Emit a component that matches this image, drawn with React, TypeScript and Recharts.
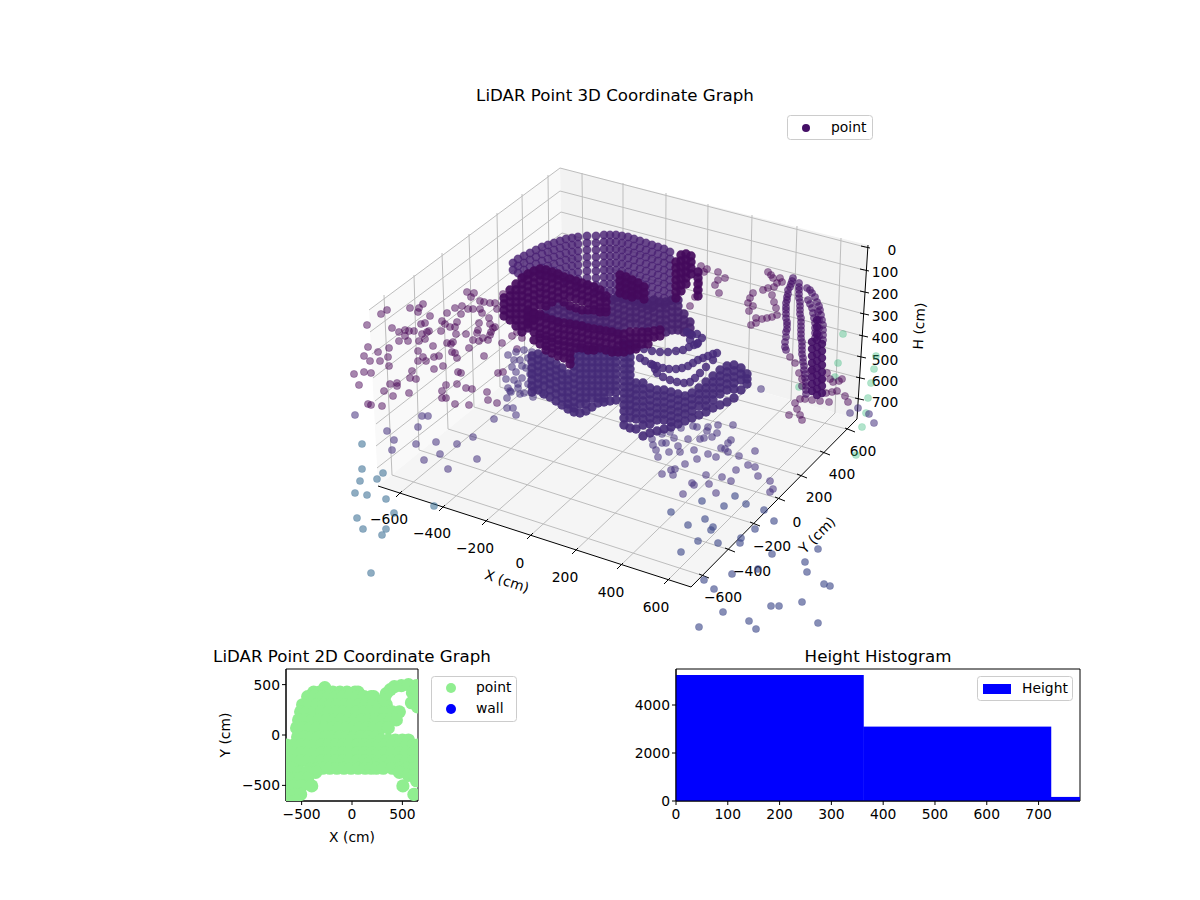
import { Bar, BarChart, ReferenceArea, ReferenceLine, Scatter, ScatterChart, XAxis, YAxis } from 'recharts';

type Pair = [number, number];
type Column = [number, number[]];

const paneLeft = '369,310 560,168 564,335 378,486';
const paneBack = '560,168 868,245 857,419 564,335';
const paneFloor = '378,486 691,587 857,419 564,335';

const xTicks3d: Pair[] = [[399, 494], [442, 508], [485, 522], [530, 536], [575, 551], [620, 566], [667, 581]];
const xBackTop: Pair[] = [[582, 173], [623, 183], [666, 193], [708, 204], [752, 215], [797, 226], [841, 238]];
const xBackBottom: Pair[] = [[584, 341], [623, 352], [665, 364], [706, 376], [748, 388], [791, 400], [835, 413]];
const yTicks3d: Pair[] = [[704, 576], [730, 550], [755, 524], [780, 499], [802, 476], [825, 453], [850, 430]];
const yLeftTop: Pair[] = [[384, 295], [414, 275], [442, 253], [469, 234], [497, 213], [522, 194], [548, 175]];
const yLeftBottom: Pair[] = [[392, 475], [419, 450], [448, 429], [474, 407], [500, 387], [525, 368], [550, 349]];
const zRight: Pair[] = [[865, 247], [864, 270], [864, 292], [864, 314], [863, 336], [861, 357], [860, 378], [859, 399]];
const zCorner: Pair[] = [[560, 168], [560, 191], [561, 212], [562, 233], [562, 256], [563, 278], [563, 300], [564, 322]];
const zLeft: Pair[] = [[369, 310], [370, 332], [372, 354], [373, 378], [375, 401], [376, 424], [376, 446], [377, 468]];

const xTickLabels = ['−600', '−400', '−200', '0', '200', '400', '600'];
const xTickLabelSpots: Pair[] = [[389, 519], [432, 533], [475, 548], [520, 563], [565, 577], [611, 592], [656, 607]];
const yTickLabels = ['−600', '−400', '−200', '0', '200', '400', '600'];
const yTickLabelSpots: Pair[] = [[723, 597], [752, 571], [772, 546], [797, 522], [819, 497], [842, 474], [863, 451]];
const zTickLabels = ['0', '100', '200', '300', '400', '500', '600', '700'];
const zTickLabelSpots: Pair[] = [[892, 250], [885, 272], [885, 294], [885, 316], [885, 338], [885, 360], [885, 381], [885, 402]];

const upperPoints: Pair[] = [
  [367, 325], [381, 314], [387, 310], [392, 328], [410, 308], [418, 312], [419, 308], [423, 304], [430, 316], [447, 313], [455, 308], [462, 306], [461, 314], [468, 309], [473, 309], [467, 292], [471, 297], [474, 293], [480, 301], [484, 302], [490, 303], [495, 303], [480, 309], [482, 313], [497, 309], [503, 294], [489, 318], [479, 323], [490, 324], [495, 327], [421, 324], [425, 323], [442, 321], [445, 324], [457, 322], [450, 327], [455, 327], [441, 331], [429, 331], [427, 332], [422, 334], [414, 331], [409, 331], [405, 330], [399, 332], [405, 336], [399, 341], [408, 341], [419, 341], [425, 339], [433, 346], [447, 343], [453, 342], [451, 344], [456, 334], [466, 334], [478, 330], [477, 333], [491, 332], [493, 328], [490, 335], [473, 340], [479, 341], [483, 338], [488, 340], [502, 343], [512, 336], [368, 347], [389, 348], [469, 348], [517, 349], [522, 338], [517, 332],
  [364, 356], [370, 361], [380, 361], [378, 352], [388, 357], [389, 366], [364, 372], [371, 373], [354, 374], [359, 385], [412, 371], [410, 378], [416, 379], [390, 384], [397, 383], [397, 386], [384, 391], [409, 393], [393, 396], [368, 404], [371, 405], [382, 406], [418, 351], [418, 361], [423, 357], [426, 361], [434, 357], [439, 356], [434, 369], [443, 366], [452, 352], [455, 353], [457, 358], [458, 372], [461, 373], [446, 385], [457, 384], [442, 391], [442, 398], [446, 398], [455, 404], [469, 405], [466, 388], [472, 389], [484, 356], [487, 392], [488, 400], [497, 403], [498, 373], [503, 372],
  [768, 272], [771, 275], [773, 278], [780, 278], [782, 282], [777, 283], [774, 287], [768, 288], [763, 290], [772, 295], [774, 302], [776, 308], [777, 315], [772, 317], [767, 318], [762, 319], [756, 318], [756, 323], [751, 325], [749, 311], [753, 306], [748, 303], [750, 298], [753, 293],
  [715, 285], [719, 293], [718, 272], [707, 269], [725, 278], [718, 280], [690, 306], [701, 266], [704, 272], [699, 282], [697, 290], [695, 297],
  [789, 415], [797, 409], [800, 415], [802, 420], [795, 403], [800, 399], [805, 399], [812, 400], [820, 401], [829, 402], [826, 393], [832, 392], [837, 391], [845, 396], [848, 402], [839, 381], [842, 379], [833, 382], [830, 379], [822, 380], [827, 373], [795, 363], [790, 357], [799, 373], [802, 379], [802, 386], [811, 371],
];

const towerPoints: Pair[] = [
  [793, 278], [792, 281], [791, 284], [790, 287], [788, 290], [788, 294], [787, 297], [787, 300], [786, 303], [786, 307], [786, 310], [786, 314], [786, 318], [787, 322], [787, 325], [787, 329], [786, 332], [786, 337], [785, 342], [785, 347], [786, 350],
  [799, 283], [799, 287], [799, 290], [799, 294], [799, 298], [800, 302], [800, 306], [800, 310], [800, 314], [801, 318], [801, 322], [801, 326], [801, 330], [801, 334], [801, 338], [802, 342], [802, 346], [802, 350], [802, 354], [803, 358], [803, 362], [804, 366], [804, 370], [805, 374], [805, 378], [806, 382], [806, 386], [806, 390], [806, 394],
  [807, 288], [810, 290], [812, 293], [815, 297], [817, 302], [819, 306], [820, 310], [821, 315], [822, 320], [823, 325], [823, 330], [823, 335], [823, 340], [808, 300], [810, 304], [812, 308], [813, 313], [814, 318], [815, 323], [815, 328], [815, 333], [815, 338], [818, 312], [819, 320], [819, 328], [819, 336],
];

const towerColumns: Column[] = [
  [812, [342, 349, 356, 363, 370, 377, 384, 391]],
  [817, [320, 327, 334, 340, 347, 354, 361, 368, 375, 382, 389, 395]],
  [822, [344, 351, 358, 365, 372, 379, 386, 393]],
];

const midPoints: Pair[] = [
  [507, 398], [507, 408], [513, 408], [516, 415], [494, 419], [514, 380], [508, 388], [511, 392], [518, 388], [520, 394], [524, 393], [533, 397], [542, 393],
  [422, 416], [428, 416], [418, 427], [387, 431], [394, 440], [416, 444], [436, 442], [457, 444], [473, 437], [392, 450], [440, 454], [424, 460], [477, 459], [448, 469], [355, 415],
  [761, 389], [733, 425], [718, 425], [755, 451], [731, 440], [728, 443], [721, 448], [725, 449], [728, 452], [739, 456], [708, 454], [716, 457], [697, 459], [694, 450], [685, 464], [748, 465], [755, 467], [736, 470], [662, 474], [671, 470], [675, 469], [673, 475], [706, 475], [722, 477], [731, 481], [758, 476], [770, 481], [773, 489], [770, 492], [692, 483], [694, 485], [709, 484], [683, 494], [716, 493],
  [658, 457], [669, 452], [680, 452], [656, 450], [653, 445], [652, 439], [662, 443], [666, 443], [678, 446], [674, 438], [688, 439], [700, 439], [704, 438], [712, 437], [707, 431], [708, 427], [697, 427], [693, 426], [681, 428], [670, 432], [662, 434], [717, 433],
  [850, 413], [858, 408], [869, 414], [874, 423],
  [508, 355], [512, 367], [506, 379], [510, 391], [516, 352], [520, 360], [516, 372], [522, 378], [518, 384], [524, 350], [528, 358], [526, 368], [530, 374], [528, 384], [534, 390], [522, 366], [514, 360], [532, 352],
];

const nearPoints: Pair[] = [
  [735, 496], [702, 501], [746, 504], [724, 506], [764, 510], [671, 512], [774, 521], [705, 519], [688, 525], [713, 527], [711, 530], [755, 529], [741, 538], [698, 541], [718, 543], [740, 543], [681, 552], [772, 554], [818, 549], [805, 562], [807, 572], [758, 569], [732, 574], [704, 580], [714, 589], [824, 584], [830, 586], [771, 606], [779, 606], [802, 602], [723, 612], [749, 621], [756, 629], [699, 627], [818, 623],
];

const farPoints: Pair[] = [
  [362, 444], [362, 469], [383, 473], [377, 479], [360, 481], [355, 493], [367, 495], [386, 499], [434, 506], [394, 513], [357, 518], [363, 529], [386, 529], [382, 535], [371, 573],
];

const greenPoints: Pair[] = [
  [843, 334], [838, 363], [874, 369], [871, 383], [868, 398], [866, 413], [862, 427], [856, 455], [876, 356], [835, 377], [799, 387],
];

const rearColumns: Column[] = [
  [513, [263, 270]], [518, [259, 266, 273]], [524, [256, 263, 270, 277]], [530, [253, 260, 267, 274]], [536, [250, 257, 264, 271]], [542, [247, 254, 261, 268, 275]], [548, [245, 252, 259, 266, 273]], [554, [243, 250, 257, 264, 271, 278]], [560, [241, 248, 255, 262, 269, 276]], [566, [239, 246, 253, 260, 267, 274, 281]], [572, [238, 245, 252, 259, 266, 273, 280]], [578, [237, 244, 251, 258, 265, 272, 279, 286]], [587, [236, 243, 250, 257, 264, 271, 278, 285]],
  [596, [236, 243, 250, 257, 264, 271, 278, 285, 292]], [604, [235, 242, 249, 256, 263, 270, 277, 284, 291, 298]], [610, [235, 242, 249, 256, 263, 270, 277, 284, 291, 298]], [616, [235, 242, 249, 256, 263, 270, 277, 284, 291, 298]], [622, [236, 243, 250, 257, 264, 271, 278, 285, 292, 299]], [628, [237, 244, 251, 258, 265, 272, 279, 286, 293, 300]], [634, [239, 246, 253, 260, 267, 274, 281, 288, 295, 302]], [640, [241, 248, 255, 262, 269, 276, 283, 290, 297, 304]], [646, [243, 250, 257, 264, 271, 278, 285, 292, 299, 306]], [652, [245, 252, 259, 266, 273, 280, 287, 294, 301, 308]], [658, [247, 254, 261, 268, 275, 282, 289, 296, 303]], [664, [249, 256, 263, 270, 277, 284, 291, 298, 305]], [670, [252, 259, 266, 273, 280, 287, 294, 301]],
];

const darkColumns: Column[] = [
  [504, [298, 304, 310, 316]], [510, [290, 296, 302, 308, 314, 320]], [516, [284, 290, 296, 302, 308, 314, 320, 326]], [522, [278, 284, 290, 296, 302, 308, 314, 320, 326, 332]], [528, [274, 280, 286, 292, 298, 304, 310, 316, 322, 328]], [534, [271, 277, 283, 289, 295, 301, 307, 313, 320]], [540, [269, 275, 281, 287, 293, 299, 305, 314]], [546, [270, 276, 282, 288, 294, 300, 306]], [552, [272, 278, 284, 290, 296, 302]], [558, [274, 280, 286, 292, 298]], [564, [277, 283, 289, 295, 302]], [570, [279, 285, 291, 297, 306]], [576, [281, 287, 293, 299, 308]], [582, [283, 289, 295, 301, 310]], [588, [285, 291, 297, 303, 310]], [594, [287, 293, 299, 305, 310]], [600, [290, 296, 302, 308, 312]], [606, [296, 302, 308, 312]],
  [620, [275, 281, 287, 293]], [626, [277, 283, 289, 295]], [632, [280, 286, 292, 297]], [638, [283, 289, 295]], [644, [287, 293, 299]],
  [676, [262, 268, 274, 280, 286, 292, 298]], [681, [255, 261, 267, 273, 279, 285, 291]], [686, [254, 260, 266, 272, 278, 284]], [691, [256, 262, 268, 274]], [698, [272, 278, 284, 290, 296]],
  [528, [312, 318, 324]], [534, [314, 320, 326, 332, 340]], [540, [316, 322, 328, 334, 338, 344]], [546, [318, 324, 330, 336, 340, 346, 350]], [552, [320, 326, 332, 338, 342, 348, 353]], [558, [322, 328, 334, 340, 345, 351, 356]], [564, [323, 329, 335, 341, 346, 352, 358]], [570, [324, 330, 336, 342, 347, 353, 359, 364]], [576, [325, 331, 337, 343, 348]], [582, [326, 332, 338, 344, 348]], [588, [328, 334, 340, 346, 350]], [594, [329, 335, 341, 347, 350]], [600, [330, 336, 342, 348]], [606, [331, 337, 343, 350]], [612, [332, 338, 344, 352]], [618, [334, 340, 346, 352]], [624, [334, 340, 346, 352]], [630, [332, 338, 344, 350]], [636, [332, 338, 344, 349]], [642, [332, 338, 344]], [648, [332, 338, 344]], [654, [331, 337]], [660, [330, 336]],
];

const midColumns: Column[] = [
  [546, [310, 316]], [552, [306, 312, 318]], [558, [304, 310, 316, 322]], [564, [306, 312, 318]], [570, [310, 316, 322]], [576, [312, 318, 324]], [582, [314, 320, 326]], [588, [314, 320, 326]], [594, [314, 320, 326]], [600, [316, 322, 328]], [606, [316, 322, 328]], [612, [300, 306, 312, 318, 324, 330]], [618, [296, 302, 308, 314, 320, 326, 332]], [624, [298, 304, 310, 316, 322, 328]], [630, [300, 306, 312, 318, 324]], [636, [300, 306, 312, 318, 324]], [642, [302, 308, 314, 320, 326]], [648, [304, 310, 316, 322, 328]], [654, [300, 306, 312, 318, 324]], [660, [302, 308, 314, 320, 326]], [666, [302, 308, 314, 320, 326, 332]], [672, [300, 306, 312, 318, 324, 330]], [678, [300, 306, 312, 318, 324, 330]], [684, [314, 320, 326, 332]], [690, [322, 328, 334]],
];

const lowerColumns: Column[] = [
  [532, [356, 362, 368, 374, 380, 386, 392]], [538, [354, 360, 366, 372, 378, 384, 390]], [544, [356, 362, 368, 374, 380, 386, 394]], [550, [360, 366, 372, 378, 384, 390, 397]], [556, [364, 370, 376, 382, 388, 394, 401]], [562, [368, 374, 380, 386, 392, 398, 405]], [568, [374, 380, 386, 392, 398, 404, 409]], [574, [354, 360, 366, 372, 378, 384, 390, 396, 402, 408, 412]], [580, [350, 356, 362, 368, 374, 380, 386, 392, 398, 404, 413]], [586, [350, 356, 362, 368, 374, 380, 386, 392, 398, 404, 411]], [592, [350, 356, 362, 368, 374, 380, 386, 392, 398, 407]], [598, [350, 356, 362, 368, 374, 380, 386, 392, 398, 403]], [604, [350, 356, 362, 368, 374, 380, 386, 392, 398, 402]], [610, [350, 356, 362, 368, 374, 380, 386, 392, 401]], [616, [350, 356, 362, 368, 374, 380, 386, 392, 400]],
  [624, [345, 351, 357, 363, 369, 375, 381, 387, 393, 399, 405, 411, 418, 425]], [630, [345, 351, 357, 363, 369, 375, 381, 387, 393, 399, 405, 411, 418, 428]],
  [636, [383, 389, 395, 401, 407, 413, 419, 429]], [643, [383, 389, 395, 401, 407, 413, 419, 425, 436]], [650, [388, 394, 400, 406, 412, 418, 424, 433]], [657, [390, 396, 402, 408, 414, 420, 431]], [664, [390, 396, 402, 408, 414, 420, 429]], [671, [392, 398, 404, 410, 416, 422, 427]], [678, [394, 400, 406, 412, 418, 424]], [685, [396, 402, 408, 414, 421]], [692, [393, 399, 405, 411, 418]], [699, [388, 394, 400, 406, 415]], [706, [382, 388, 394, 400, 406, 412]], [713, [376, 382, 388, 394, 400, 408]], [720, [370, 376, 382, 388, 394, 405]], [727, [366, 372, 378, 384, 390, 402]], [734, [365, 371, 377, 383, 389, 398]], [741, [368, 374, 380, 390]], [747, [374, 379, 384]],
];

const fingerPoints: Pair[] = [
  [640, 358], [645, 361], [651, 364], [657, 366], [663, 368], [669, 369], [676, 369], [682, 368], [688, 366], [693, 363], [698, 360], [703, 358], [708, 356], [713, 354], [717, 353],
  [653, 365], [655, 369], [657, 373], [663, 377], [670, 380], [677, 382], [684, 383], [690, 382], [695, 378], [700, 373], [706, 367], [713, 360],
  [623, 343], [630, 345], [637, 347], [644, 349], [652, 351], [660, 352], [668, 352], [676, 351], [683, 350], [689, 347], [694, 345], [698, 343],
  [687, 332], [692, 335], [697, 334], [702, 338], [697, 344], [690, 340],
];

// 2D panel, values in cm
const blobRows: Column[] = [
  [470, [-270]],
  [425, [-380, -320, -260, -190, -120, -50, 30, 60]],
  [380, [-440, -370, -300, -230, -160, -90, -20, 50, 120, 190, 215]],
  [300, [-490, -420, -350, -280, -210, -140, -70, 0, 70, 140, 210, 280, 340]],
  [230, [-510, -440, -370, -300, -230, -160, -90, -20, 50, 120, 190, 260, 330, 400, 470]],
  [150, [-530, -460, -390, -320, -250, -180, -110, -40, 30, 100, 170, 240, 310, 380, 440]],
  [70, [-550, -480, -410, -340, -270, -200, -130, -60, 10, 80, 150, 220, 290, 360]],
  [-20, [-540, -470, -400, -330, -260, -190, -120, -50, 20, 90, 160, 230]],
  [-50, [290, 360, 430, 500, 560]],
  [-100, [-650, -580, -510, -440, -370, -300, -230, -160, -90, -20, 50, 120, 190, 260, 330, 400, 470, 540, 610, 650]],
  [-180, [-650, -580, -510, -440, -370, -300, -230, -160, -90, -20, 50, 120, 190, 260, 330, 400, 470, 540, 610, 650]],
  [-260, [-650, -580, -510, -440, -370, -300, -230, -160, -90, -20, 50, 120, 190, 260, 330, 400, 470, 540, 610, 650]],
  [-330, [-650, -590, -400, -340, -290, -220, -150, -80, -10, 60, 130, 190, 242, 310, 400, 470, 550, 625]],
  [-370, [-520, -450, -360, 470]],
  [-400, [560, 625, 650]],
  [-430, [-650, -580, -510, -440, -640]],
  [-454, [640]],
  [-505, [-650, -580, -500, -400, 505]],
  [-590, [-650, -570, -510, 614]],
  [-650, [-640, -560]],
];
const rightLobe: Pair[] = [[320, 350], [340, 410], [380, 450], [420, 480], [490, 490], [560, 500], [640, 490], [600, 420], [650, 420], [650, 350], [590, 320], [650, 280]];

const xTicks2d = [-500, 0, 500];
const yTicks2d = [-500, 0, 500];

// histogram
const histCenters = [181, 543, 905];
const histCounts = [5250, 3100, 170];
const histXTicks = [0, 100, 200, 300, 400, 500, 600, 700];
const histYTicks = [0, 2000, 4000];

const font = 'DejaVu Sans';
const tickSize = 13.89;
const fmt = (v: number) => String(v).replace('-', '−');

const fromPairs = (p: Pair[]) => p.map(([x, y]) => ({ x, y }));
const fromColumns = (c: Column[]) => c.flatMap(([x, ys]) => ys.map((y) => ({ x, y })));
const fromRows = (c: Column[]) => c.flatMap(([y, xs]) => xs.map((x) => ({ x, y })));

const dot = (r: number, color: string, alpha: number, edge = 0) => (p: any) => (
  <circle cx={p.cx} cy={p.cy} r={r} fill={color} fillOpacity={alpha} stroke={edge ? color : 'none'} strokeOpacity={edge} strokeWidth={0.7} />
);

const label = (spots: Pair[], texts: string[]) =>
  texts.map((t, i) => (
    <text key={t + i} x={spots[i][0]} y={spots[i][1]} textAnchor="middle" dominantBaseline="central" fontFamily={font} fontSize={tickSize} fill="#000">
      {t}
    </text>
  ));

const seg = (a: Pair, b: Pair, stroke: string, width: number, key: string) => (
  <ReferenceLine key={key} segment={[{ x: a[0], y: a[1] }, { x: b[0], y: b[1] }]} stroke={stroke} strokeWidth={width} ifOverflow="visible" />
);

// one histogram bin, as wide as the bin on the axis
const binBar = (p: any) => <rect x={p.x + p.width / 2 - 94} y={p.y} width={188} height={p.height} fill="#0000ff" />;

const gridColor = '#bdbdbd';

function View3D() {
  return (
    <div style={{ position: 'absolute', left: 0, top: 0 }}>
      <ScatterChart width={1200} height={640} margin={{ top: 0, right: 0, bottom: 0, left: 0 }}>
        <XAxis type="number" dataKey="x" domain={[0, 1200]} hide />
        <YAxis type="number" dataKey="y" domain={[0, 640]} reversed hide />
        <polygon points={paneLeft} fill="#f9f9f9" />
        <polygon points={paneBack} fill="#f2f2f2" />
        <polygon points={paneFloor} fill="#f5f5f5" />
        {xBackTop.map((p, i) => seg(p, xBackBottom[i], gridColor, 1, `xb${i}`))}
        {xBackBottom.map((p, i) => seg(p, xTicks3d[i], gridColor, 1, `xf${i}`))}
        {yLeftTop.map((p, i) => seg(p, yLeftBottom[i], gridColor, 1, `yl${i}`))}
        {yLeftBottom.map((p, i) => seg(p, yTicks3d[i], gridColor, 1, `yf${i}`))}
        {zRight.map((p, i) => seg(p, zCorner[i], gridColor, 1, `zr${i}`))}
        {zCorner.map((p, i) => seg(p, zLeft[i], gridColor, 1, `zl${i}`))}
        {seg([378, 486], [691, 587], '#000', 1, 'ax')}
        {seg([691, 587], [857, 419], '#000', 1, 'ay')}
        {seg([868, 245], [857, 419], '#000', 1, 'az')}
        {xTicks3d.map((p, i) => seg([p[0] - 3, p[1] + 3], [p[0] + 3, p[1] - 3], '#000', 1, `xt${i}`))}
        {yTicks3d.map((p, i) => seg([p[0] - 5, p[1] - 2], [p[0] + 5, p[1] + 2], '#000', 1, `yt${i}`))}
        {zRight.map((p, i) => seg([p[0] - 4, p[1] - 1], [p[0] + 5, p[1] + 1], '#000', 1, `zt${i}`))}
        <Scatter data={fromPairs(greenPoints)} shape={dot(3.6, '#35b779', 0.38, 0.25)} isAnimationActive={false} />
        <Scatter data={fromColumns(rearColumns)} shape={dot(4.2, '#4b2274', 0.82, 0.35)} isAnimationActive={false} />
        <Scatter data={fromPairs(upperPoints)} shape={dot(3.6, '#440154', 0.48, 0.4)} isAnimationActive={false} />
        <Scatter data={fromPairs(towerPoints)} shape={dot(3.6, '#440f66', 0.6, 0.5)} isAnimationActive={false} />
        <Scatter data={fromColumns(towerColumns)} shape={dot(4.2, '#440f66', 0.9)} isAnimationActive={false} />
        <Scatter data={fromPairs(farPoints)} shape={dot(3.6, '#31688e', 0.55, 0.35)} isAnimationActive={false} />
        <Scatter data={fromPairs(nearPoints)} shape={dot(3.6, '#3e4989', 0.62, 0.4)} isAnimationActive={false} />
        <Scatter data={fromPairs(midPoints)} shape={dot(3.6, '#46327e', 0.55, 0.4)} isAnimationActive={false} />
        <Scatter data={fromColumns(midColumns)} shape={dot(4.7, '#47226f', 0.9)} isAnimationActive={false} />
        <Scatter data={fromColumns(lowerColumns)} shape={dot(4.7, '#452a78', 0.9)} isAnimationActive={false} />
        <Scatter data={fromPairs(fingerPoints)} shape={dot(4.2, '#472a7a', 0.85)} isAnimationActive={false} />
        <Scatter data={fromColumns(darkColumns)} shape={dot(4.7, '#440a5c', 0.92)} isAnimationActive={false} />
        {label(xTickLabelSpots, xTickLabels)}
        {label(yTickLabelSpots, yTickLabels)}
        {label(zTickLabelSpots, zTickLabels)}
        <text x={507} y={581} transform="rotate(18 507 581)" textAnchor="middle" dominantBaseline="central" fontFamily={font} fontSize={tickSize}>X (cm)</text>
        <text x={817} y={535} transform="rotate(-45 817 535)" textAnchor="middle" dominantBaseline="central" fontFamily={font} fontSize={tickSize}>Y (cm)</text>
        <text x={919} y={326} transform="rotate(-87 919 326)" textAnchor="middle" dominantBaseline="central" fontFamily={font} fontSize={tickSize}>H (cm)</text>
        <text x={615} y={95} textAnchor="middle" dominantBaseline="central" fontFamily={font} fontSize={16.67}>LiDAR Point 3D Coordinate Graph</text>
        <rect x={787.5} y={115.5} width={85} height={24} rx={3} fill="#fff" fillOpacity={0.8} stroke="#ccc" />
        <circle cx={806} cy={128} r={4} fill="#440f66" />
        <text x={831} y={127} dominantBaseline="central" fontFamily={font} fontSize={tickSize}>point</text>
      </ScatterChart>
    </div>
  );
}

function Panel2D() {
  return (
    <div style={{ position: 'absolute', left: 200, top: 640 }}>
      <ScatterChart width={330} height={210} margin={{ top: 29, right: 112, bottom: 19, left: 36 }}>
        <XAxis type="number" dataKey="x" domain={[-655, 655]} ticks={xTicks2d} allowDataOverflow tickFormatter={fmt} height={30} tickSize={4} tickMargin={4} interval={0} stroke="#000" tick={{ fill: '#000', fontFamily: font, fontSize: tickSize }} />
        <YAxis type="number" dataKey="y" domain={[-655, 655]} ticks={yTicks2d} allowDataOverflow tickFormatter={fmt} width={50} tickSize={4} interval={0} stroke="#000" tick={{ fill: '#000', fontFamily: font, fontSize: tickSize }} />
        <Scatter data={[...fromRows(blobRows), ...fromPairs(rightLobe)]} shape={dot(6.6, '#90ee90', 1)} isAnimationActive={false} />
        <ReferenceArea x1={-655} x2={655} y1={-655} y2={655} fill="none" stroke="#000" strokeWidth={1} ifOverflow="visible" />
        <text x={152} y={16} textAnchor="middle" dominantBaseline="central" fontFamily={font} fontSize={16.67}>LiDAR Point 2D Coordinate Graph</text>
        <text x={152} y={197} textAnchor="middle" dominantBaseline="central" fontFamily={font} fontSize={tickSize}>X (cm)</text>
        <text x={25} y={95} transform="rotate(-90 25 95)" textAnchor="middle" dominantBaseline="central" fontFamily={font} fontSize={tickSize}>Y (cm)</text>
        <rect x={231.5} y={36.5} width={85} height={45} rx={3} fill="#fff" stroke="#ccc" />
        <circle cx={251} cy={48} r={5} fill="#90ee90" />
        <circle cx={251} cy={69} r={5} fill="#0000ff" />
        <text x={276} y={47} dominantBaseline="central" fontFamily={font} fontSize={tickSize}>point</text>
        <text x={276} y={68} dominantBaseline="central" fontFamily={font} fontSize={tickSize}>wall</text>
      </ScatterChart>
    </div>
  );
}

function Histogram() {
  const data = histCenters.map((c, i) => ({ c, n: histCounts[i] }));
  return (
    <div style={{ position: 'absolute', left: 620, top: 640 }}>
      <BarChart width={480} height={210} data={data} margin={{ top: 29, right: 20, bottom: 19, left: 6 }}>
        <XAxis type="number" dataKey="c" domain={[0, 780]} ticks={histXTicks} allowDataOverflow height={30} tickSize={4} tickMargin={4} interval={0} stroke="#000" tick={{ fill: '#000', fontFamily: font, fontSize: tickSize }} />
        <YAxis type="number" domain={[0, 5500]} ticks={histYTicks} width={50} tickSize={4} interval={0} stroke="#000" tick={{ fill: '#000', fontFamily: font, fontSize: tickSize }} />
        <Bar dataKey="n" fill="#0000ff" shape={binBar} isAnimationActive={false} />
        <ReferenceArea x1={0} x2={780} y1={0} y2={5500} fill="none" stroke="#000" strokeWidth={1} ifOverflow="visible" />
        <text x={258} y={16} textAnchor="middle" dominantBaseline="central" fontFamily={font} fontSize={16.67}>Height Histogram</text>
        <rect x={357.5} y={36.5} width={95} height={24} rx={3} fill="#fff" fillOpacity={0.8} stroke="#ccc" />
        <rect x={363} y={44} width={28} height={10} fill="#0000ff" />
        <text x={402} y={48} dominantBaseline="central" fontFamily={font} fontSize={tickSize}>Height</text>
      </BarChart>
    </div>
  );
}

export default function App() {
  return (
    <div style={{ position: 'absolute', left: 0, top: 0, width: 1200, height: 900, background: '#fff', overflow: 'hidden' }}>
      <View3D />
      <Panel2D />
      <Histogram />
    </div>
  );
}
